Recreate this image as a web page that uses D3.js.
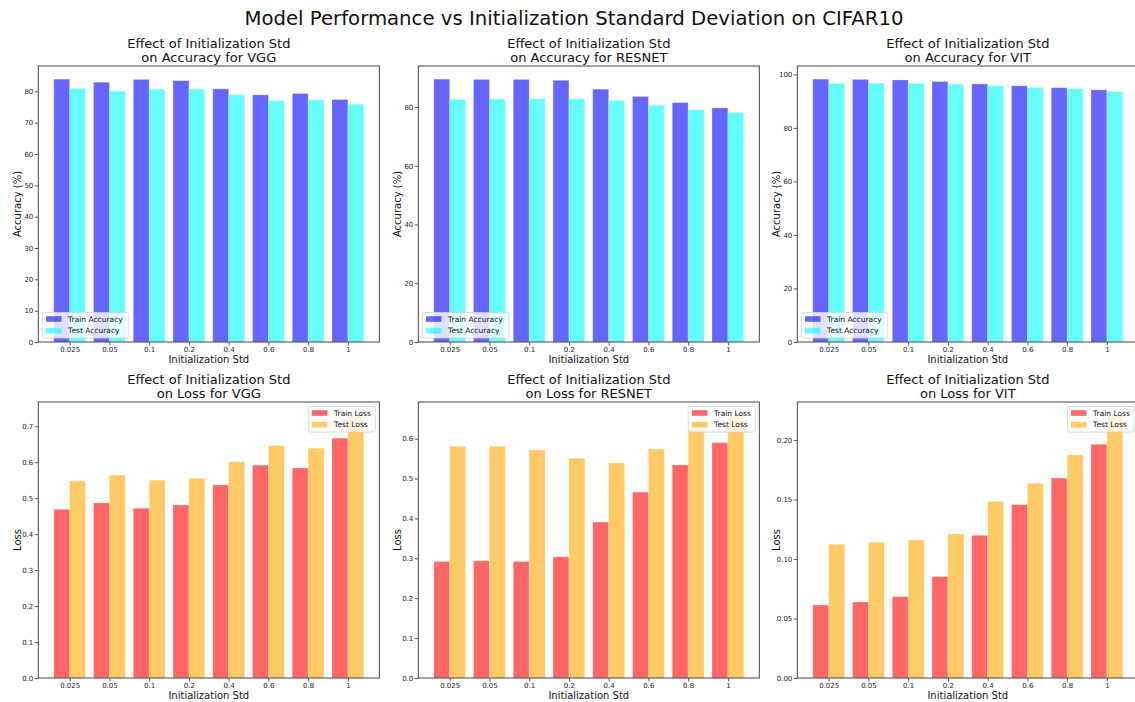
<!DOCTYPE html>
<html>
<head>
<meta charset="utf-8">
<script src="https://cdn.jsdelivr.net/npm/d3@7"></script>
<style>
  html, body { margin: 0; padding: 0; background: #fff; }
  svg { display: block; font-family: "DejaVu Sans", sans-serif; }
</style>
</head>
<body>
<svg id="chart" width="1135" height="702"></svg>
<script>
// Initialization std values (x categories)
const stdLabels = ["0.025", "0.05", "0.1", "0.2", "0.4", "0.6", "0.8", "1"];

// Accuracy (%) per model
const vggTrainAcc    = [83.9, 82.9, 83.8, 83.4, 80.8, 78.9, 79.3, 77.4];
const vggTestAcc     = [80.9, 80.1, 80.7, 80.7, 78.9, 77.0, 77.3, 75.9];
const resnetTrainAcc = [89.5, 89.4, 89.4, 89.1, 86.1, 83.6, 81.5, 79.7];
const resnetTestAcc  = [82.6, 82.7, 82.8, 82.8, 82.2, 80.6, 79.1, 78.1];
const vitTrainAcc    = [98.2, 98.1, 97.9, 97.3, 96.4, 95.7, 95.0, 94.2];
const vitTestAcc     = [96.6, 96.7, 96.6, 96.3, 95.7, 95.1, 94.6, 93.6];

// Loss per model
const vggTrainLoss    = [0.469, 0.487, 0.472, 0.481, 0.537, 0.592, 0.584, 0.667];
const vggTestLoss     = [0.548, 0.564, 0.550, 0.555, 0.601, 0.646, 0.639, 0.731];
const resnetTrainLoss = [0.292, 0.294, 0.292, 0.304, 0.391, 0.466, 0.534, 0.590];
const resnetTestLoss  = [0.581, 0.581, 0.572, 0.551, 0.539, 0.574, 0.625, 0.659];
const vitTrainLoss    = [0.0613, 0.0639, 0.0683, 0.0852, 0.1199, 0.1457, 0.168, 0.1964];
const vitTestLoss     = [0.1123, 0.114, 0.116, 0.121, 0.1485, 0.1636, 0.1874, 0.2209];

// Y tick values
const vggAccTicks     = [0, 10, 20, 30, 40, 50, 60, 70, 80];
const resnetAccTicks  = [0, 20, 40, 60, 80];
const vitAccTicks     = [0, 20, 40, 60, 80, 100];
const vggLossTicks    = [0, 0.1, 0.2, 0.3, 0.4, 0.5, 0.6, 0.7];
const resnetLossTicks = [0, 0.1, 0.2, 0.3, 0.4, 0.5, 0.6];
const vitLossTicks    = [0, 0.05, 0.10, 0.15, 0.20];

const svg = d3.select("#chart");

svg.append("text")
  .attr("x", 574).attr("y", 25)
  .attr("text-anchor", "middle")
  .attr("font-size", 19.7)
  .attr("fill", "#111")
  .text("Model Performance vs Initialization Standard Deviation on CIFAR10");

const colLefts = [38.3, 418.3, 797.3];
const rowTops = [66, 402];
const plotW = 341, plotH = 276;

const accColors = { train: "blue", test: "cyan" };
const lossColors = { train: "red", test: "orange" };

const panels = [
  { col: 0, row: 0, model: "VGG", kind: "Accuracy", train: vggTrainAcc, test: vggTestAcc, ticks: vggAccTicks, fmt: d3.format("d") },
  { col: 1, row: 0, model: "RESNET", kind: "Accuracy", train: resnetTrainAcc, test: resnetTestAcc, ticks: resnetAccTicks, fmt: d3.format("d") },
  { col: 2, row: 0, model: "VIT", kind: "Accuracy", train: vitTrainAcc, test: vitTestAcc, ticks: vitAccTicks, fmt: d3.format("d") },
  { col: 0, row: 1, model: "VGG", kind: "Loss", train: vggTrainLoss, test: vggTestLoss, ticks: vggLossTicks, fmt: d3.format(".1f") },
  { col: 1, row: 1, model: "RESNET", kind: "Loss", train: resnetTrainLoss, test: resnetTestLoss, ticks: resnetLossTicks, fmt: d3.format(".1f") },
  { col: 2, row: 1, model: "VIT", kind: "Loss", train: vitTrainLoss, test: vitTestLoss, ticks: vitLossTicks, fmt: d3.format(".2f") }
];

const barW = 0.4;
const n = stdLabels.length;
const xPad = 0.05 * (n - 1 + 2 * barW);

panels.forEach(p => {
  const left = colLefts[p.col], top = rowTops[p.row];
  const g = svg.append("g").attr("transform", `translate(${left},${top})`);

  const x = d3.scaleLinear()
    .domain([-barW - xPad, n - 1 + barW + xPad])
    .range([0, plotW]);
  const yMax = d3.max(p.train.concat(p.test)) * 1.05;
  const y = d3.scaleLinear().domain([0, yMax]).range([plotH, 0]);

  const isAcc = p.kind === "Accuracy";
  const colors = isAcc ? accColors : lossColors;
  const rows = stdLabels.map((s, i) => ({ i, train: p.train[i], test: p.test[i] }));

  // bars
  const series = [
    { key: "train", offset: -barW },
    { key: "test", offset: 0 }
  ];
  series.forEach(s => {
    g.selectAll(null).data(rows).enter().append("rect")
      .attr("x", d => x(d.i + s.offset))
      .attr("width", d => x(d.i + s.offset + barW) - x(d.i + s.offset))
      .attr("y", d => y(d[s.key]))
      .attr("height", d => y(0) - y(d[s.key]))
      .attr("fill", colors[s.key])
      .attr("fill-opacity", 0.6)
      .attr("stroke", "#fff")
      .attr("stroke-opacity", 0.3)
      .attr("stroke-width", 0.8);
  });

  // axes
  const xAxis = d3.axisBottom(x)
    .tickValues(d3.range(n))
    .tickFormat(i => stdLabels[i])
    .tickSize(3.5).tickPadding(1.5);
  const yAxis = d3.axisLeft(y)
    .tickValues(p.ticks)
    .tickFormat(p.fmt)
    .tickSize(3.5).tickPadding(1.5);

  const gx = g.append("g").attr("transform", `translate(0,${plotH})`).call(xAxis);
  const gy = g.append("g").call(yAxis);
  [gx, gy].forEach(ax => {
    ax.select(".domain").remove();
    ax.selectAll(".tick line").attr("stroke", "#333").attr("stroke-width", 0.8);
    ax.selectAll(".tick text").attr("font-size", 7).attr("fill", "#222")
      .attr("font-family", "DejaVu Sans, sans-serif");
  });

  // frame
  g.append("rect")
    .attr("x", 0).attr("y", 0).attr("width", plotW).attr("height", plotH)
    .attr("fill", "none").attr("stroke", "#333").attr("stroke-width", 0.9);

  // titles and labels
  const title = g.append("text")
    .attr("x", plotW / 2)
    .attr("text-anchor", "middle")
    .attr("font-size", 13).attr("fill", "#111");
  title.append("tspan").attr("x", plotW / 2).attr("y", -18).text("Effect of Initialization Std");
  title.append("tspan").attr("x", plotW / 2).attr("y", -4.3).text(`on ${p.kind} for ${p.model}`);

  g.append("text")
    .attr("x", plotW / 2).attr("y", plotH + 21)
    .attr("text-anchor", "middle")
    .attr("font-size", 10).attr("fill", "#111")
    .text("Initialization Std");

  g.append("text")
    .attr("transform", `translate(-17.8,${plotH / 2}) rotate(-90)`)
    .attr("text-anchor", "middle")
    .attr("font-size", 10).attr("fill", "#111")
    .text(isAcc ? "Accuracy (%)" : "Loss");

  // legend
  const items = [
    { label: `Train ${p.kind}`, color: colors.train },
    { label: `Test ${p.kind}`, color: colors.test }
  ];
  const lw = isAcc ? 86.5 : 67, lh = 25.5;
  const lx = isAcc ? 4 : plotW - 4 - lw;
  const ly = isAcc ? plotH - 4 - lh : 4.5;
  const lg = g.append("g").attr("transform", `translate(${lx},${ly})`);
  lg.append("rect")
    .attr("width", lw).attr("height", lh).attr("rx", 2)
    .attr("fill", "#fff").attr("fill-opacity", 0.8)
    .attr("stroke", "#d0d0d0").attr("stroke-width", 0.8);
  items.forEach((it, k) => {
    const cy = 6.5 + k * 11.7;
    lg.append("rect")
      .attr("x", 3.7).attr("y", cy - 2.8).attr("width", 15.5).attr("height", 5.6)
      .attr("fill", it.color).attr("fill-opacity", 0.6);
    lg.append("text")
      .attr("x", 25.8).attr("y", cy + 2.7)
      .attr("font-size", 7.5).attr("fill", "#111")
      .text(it.label);
  });
});
</script>
</body>
</html>
